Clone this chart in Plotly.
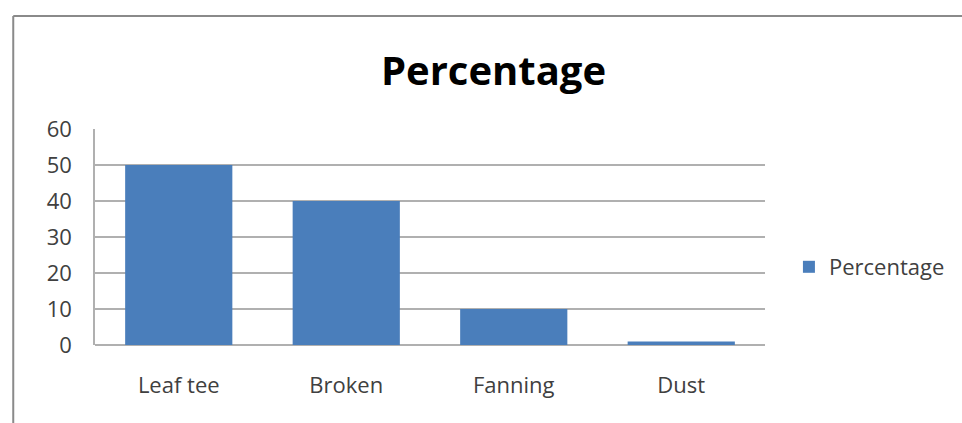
import plotly.graph_objects as go

categories = ["Leaf tee", "Broken", "Fanning", "Dust"]
percentage = [50, 40, 10, 1]
y_ticks = [0, 10, 20, 30, 40, 50, 60]

W, H = 962, 423
L, R, T, B = 95, 195, 129, 78
pw, ph = W - L - R, H - T - B

fig = go.Figure(
    go.Bar(
        x=categories,
        y=percentage,
        name="Percentage",
        marker=dict(color="#4a7ebb", line=dict(width=0)),
        width=0.64,
        showlegend=True,
    )
)

# pixel -> paper helpers
def px_x(p):
    return (p - L) / pw

def px_y(p):
    return (H - B - p) / ph

# outer chart frame: top and left edges (the rest runs off the page)
frame = dict(color="#8a8a8a", width=2)
fig.add_shape(type="line", xref="paper", yref="paper",
              x0=px_x(13), x1=px_x(1000), y0=px_y(16), y1=px_y(16), line=frame)
fig.add_shape(type="line", xref="paper", yref="paper",
              x0=px_x(13), x1=px_x(13), y0=px_y(16), y1=px_y(460), line=frame)

fig.update_layout(
    width=W, height=H,
    margin=dict(l=L, r=R, t=T, b=B, pad=0),
    paper_bgcolor="white", plot_bgcolor="white",
    title=dict(
        text="<b>Percentage</b>", x=0.513, xanchor="center",
        y=1 - 71 / H, yanchor="middle", yref="container",
        font=dict(family="Open Sans", size=40, color="#000000"),
    ),
    font=dict(family="Open Sans", color="#404040"),
    legend=dict(
        x=px_x(791), y=px_y(267), xanchor="left", yanchor="middle",
        xref="paper", yref="paper",
        font=dict(size=22, color="#404040"),
        itemwidth=30, bgcolor="rgba(0,0,0,0)",
    ),
    xaxis=dict(
        showgrid=False, showline=False, zeroline=False,
        ticks="", tickfont=dict(size=22, color="#404040"),
        ticklabelstandoff=25,
    ),
    yaxis=dict(
        range=[0, 60], tickvals=y_ticks, ticktext=[str(v) for v in y_ticks],
        showgrid=True, gridcolor="#b0b0b0", gridwidth=1.5,
        showline=True, linecolor="#b0b0b0", linewidth=1.5,
        zeroline=True, zerolinecolor="#b0b0b0", zerolinewidth=1.5,
        ticks="", tickfont=dict(size=22, color="#404040"),
        ticklabelstandoff=17,
    ),
    bargap=0.36,
)

fig.write_html("out.html")
